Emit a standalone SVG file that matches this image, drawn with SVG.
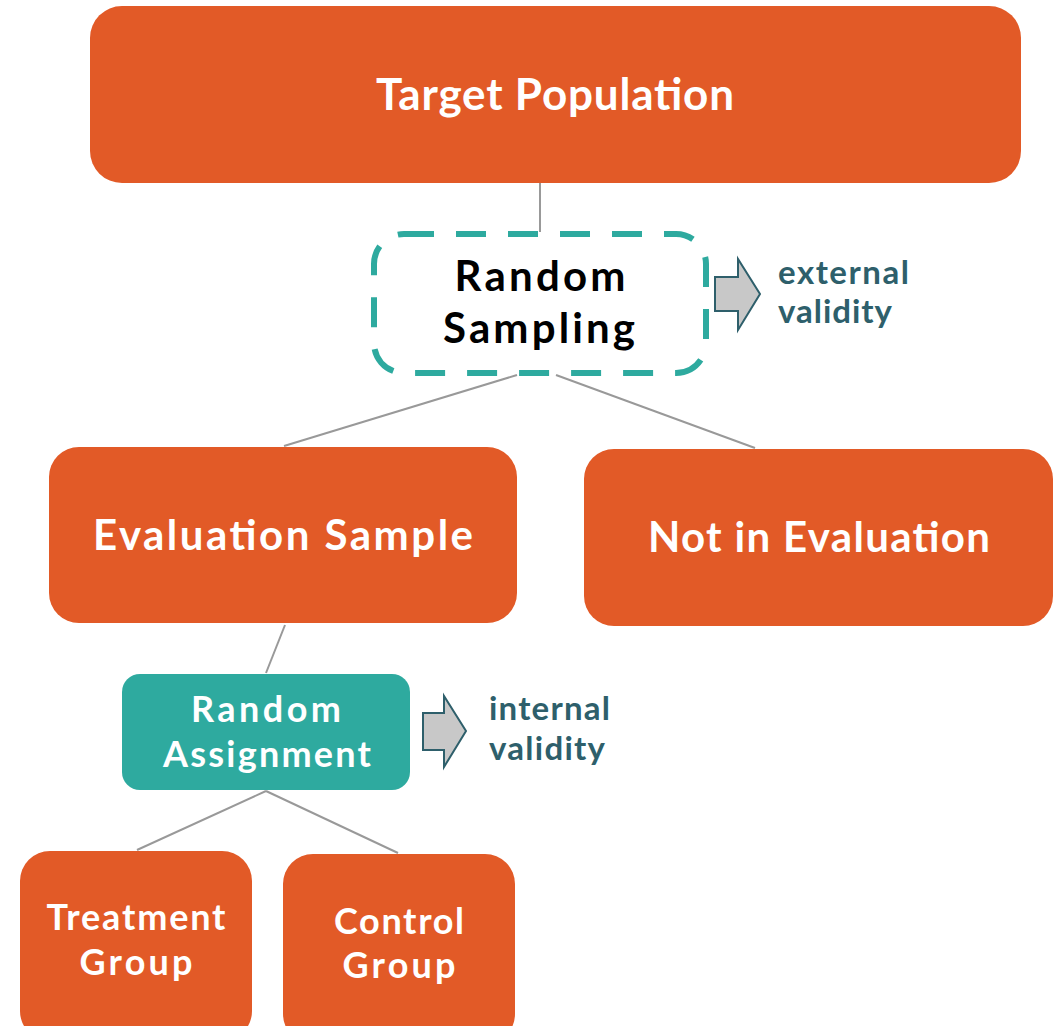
<svg xmlns="http://www.w3.org/2000/svg" width="1056" height="1026" viewBox="0 0 1056 1026">
<style>
.box{fill:#E25A27;}
.t{font-family:"Lato","Open Sans","Liberation Sans",sans-serif;font-weight:bold;text-anchor:middle;fill:#FFFFFF;}
.k{fill:#000000;}
.lbl{font-family:"Lato","Open Sans","Liberation Sans",sans-serif;font-weight:bold;fill:#2E5F6B;font-size:33px;}
.ln{stroke:#999999;stroke-width:2;fill:none;}
.arr{fill:#C8C8C8;stroke:#2E5F6B;stroke-width:2;}
</style>
<rect width="1056" height="1026" fill="#FFFFFF"/>
<g id="connectors">
<line class="ln" x1="540" y1="183" x2="540" y2="232"/>
<line class="ln" x1="517" y1="375" x2="284" y2="446"/>
<line class="ln" x1="556" y1="375" x2="755" y2="448"/>
<line class="ln" x1="285" y1="625" x2="266" y2="673"/>
<line class="ln" x1="266" y1="791" x2="137" y2="850"/>
<line class="ln" x1="266" y1="791" x2="398" y2="853"/>
</g>
<g id="target-population">
<rect class="box" x="90" y="6" width="931" height="177" rx="32"/>
<text class="t" x="555" y="110" font-size="44" textLength="358" lengthAdjust="spacing">Target Population</text>
</g>
<g id="random-sampling">
<rect x="374" y="234" width="332" height="139" rx="30" fill="#FFFFFF" stroke="#2EAA9F" stroke-width="6" stroke-dasharray="30,22"/>
<text class="t k" x="540" y="291" font-size="42" textLength="171" lengthAdjust="spacing">Random</text>
<text class="t k" x="539" y="343" font-size="42" textLength="192" lengthAdjust="spacing">Sampling</text>
</g>
<g id="external-validity">
<path class="arr" d="M715,277 L738,277 L738,259 L760,294 L738,330 L738,311 L715,311 Z"/>
<text class="lbl" x="778" y="284" textLength="131" lengthAdjust="spacing">external</text>
<text class="lbl" x="778" y="323" textLength="114" lengthAdjust="spacing">validity</text>
</g>
<g id="evaluation-sample">
<rect class="box" x="49" y="447" width="468" height="176" rx="30"/>
<text class="t" x="283" y="550" font-size="42" textLength="380" lengthAdjust="spacing">Evaluation Sample</text>
</g>
<g id="not-in-evaluation">
<rect class="box" x="584" y="449" width="469" height="177" rx="30"/>
<text class="t" x="819" y="552" font-size="42" textLength="342" lengthAdjust="spacing">Not in Evaluation</text>
</g>
<g id="random-assignment">
<rect x="122" y="674" width="288" height="116" rx="18" fill="#2EAA9F"/>
<text class="t" x="266" y="722" font-size="36" textLength="150" lengthAdjust="spacing">Random</text>
<text class="t" x="267" y="767" font-size="36" textLength="208" lengthAdjust="spacing">Assignment</text>
</g>
<g id="internal-validity">
<path class="arr" d="M423,713 L444,713 L444,696 L466,731 L444,767 L444,750 L423,750 Z"/>
<text class="lbl" x="489" y="720" textLength="121" lengthAdjust="spacing">internal</text>
<text class="lbl" x="489" y="760" textLength="116" lengthAdjust="spacing">validity</text>
</g>
<g id="treatment-group">
<rect class="box" x="20" y="851" width="232" height="190" rx="30"/>
<text class="t" x="136" y="930" font-size="36" textLength="179" lengthAdjust="spacing">Treatment</text>
<text class="t" x="136" y="975" font-size="36" textLength="113" lengthAdjust="spacing">Group</text>
</g>
<g id="control-group">
<rect class="box" x="283" y="854" width="232" height="190" rx="30"/>
<text class="t" x="399" y="934" font-size="36" textLength="130" lengthAdjust="spacing">Control</text>
<text class="t" x="399" y="978" font-size="36" textLength="113" lengthAdjust="spacing">Group</text>
</g>
</svg>
